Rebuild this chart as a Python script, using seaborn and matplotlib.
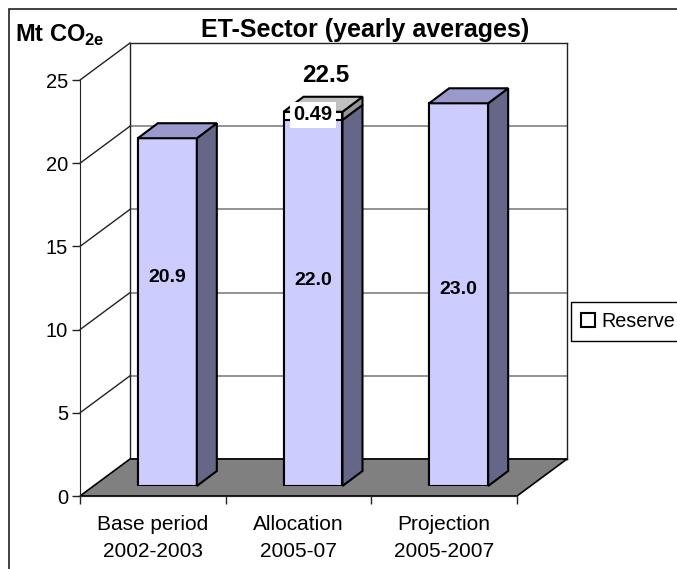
import matplotlib
matplotlib.use("Agg")
import matplotlib.pyplot as plt
import seaborn as sns
from matplotlib.patches import Patch, Polygon, Rectangle

categories = ["Base period\n2002-2003", "Allocation\n2005-07", "Projection\n2005-2007"]
base_values = [20.9, 22.0, 23.0]
reserve_values = [0, 0.49, 0]
base_labels = ["20.9", "22.0", "23.0"]
y_ticks = [0, 5, 10, 15, 20, 25]

W, H = 677, 569
sns.set_style("white")
plt.rcParams["font.family"] = ["Liberation Sans", "DejaVu Sans"]
plt.rcParams["mathtext.fontset"] = "custom"
plt.rcParams["mathtext.bf"] = "Liberation Sans:bold"
plt.rcParams["mathtext.rm"] = "Liberation Sans"
plt.rcParams["text.color"] = "black"
plt.rcParams["xtick.color"] = "black"
plt.rcParams["ytick.color"] = "black"

# front plane of the fake 3d box, in pixels
X0, X1, Y0, Y25 = 80, 517, 496, 80
PX_X = (X1 - X0) / 3
PX_Y = (Y0 - Y25) / 25


def place(dx, dy):
    return [(X0 + dx) / W, (H - Y0 + dy) / H, (X1 - X0) / W, (Y0 - Y25) / H]


def setup(a):
    a.set_xlim(-0.5, 2.5)
    a.set_ylim(0, 25)
    a.patch.set_alpha(0)


fig = plt.figure(figsize=(W / 100, H / 100), dpi=100)
fig.add_artist(Rectangle((9 / W, -0.1), 1.1, 1.1 + (H - 9) / H - 1, transform=fig.transFigure,
                         fill=False, edgecolor="#222222", lw=1.2))

# back wall
wall = fig.add_axes(place(50, 37), zorder=1)
setup(wall)
wall.set_xticks([])
wall.set_yticks(y_ticks)
wall.tick_params(left=False, labelleft=False)
wall.grid(axis="y", color="#808080", lw=1.2)
for s in wall.spines.values():
    s.set_color("#222222")
    s.set_linewidth(1)

# front axis + floor
ax = fig.add_axes(place(0, 0), zorder=2)
setup(ax)
wall_dx, wall_dy = 50 / PX_X, 37 / PX_Y
ax.add_patch(Polygon([(-0.5, 0), (2.5, 0), (2.5 + wall_dx, wall_dy), (-0.5 + wall_dx, wall_dy)],
                     facecolor="#808080", edgecolor="black", lw=1.2, clip_on=False))
for t in y_ticks[1:]:
    ax.plot([-0.5, -0.5 + wall_dx], [t, t + wall_dy], color="#222222", lw=1, clip_on=False)
ax.set_xticks([-0.5, 0.5, 1.5, 2.5])
ax.set_xticklabels([])
ax.set_xticks([0, 1, 2], labels=categories, minor=True)
ax.tick_params(axis="x", which="major", bottom=True, length=6, width=1, color="#222222")
ax.tick_params(axis="x", which="minor", bottom=False, pad=11.5, labelsize=15)
for lab in ax.get_xticklabels(minor=True):
    lab.set_linespacing(1.55)
ax.set_yticks(y_ticks)
ax.tick_params(axis="y", left=True, length=6, width=1, color="#222222", labelsize=14.5, pad=2.5)
ax.spines["top"].set_visible(False)
ax.spines["right"].set_visible(False)
ax.spines["left"].set_color("#222222")
ax.spines["bottom"].set_color("#222222")

# bars, stacked by drawing the total first
bars = fig.add_axes(place(14.5, 10), zorder=3)
totals = [b + r for b, r in zip(base_values, reserve_values)]
sns.barplot(x=categories, y=totals, color="white", saturation=1, width=0.405,
            edgecolor="black", linewidth=1.5, ax=bars)
sns.barplot(x=categories, y=base_values, color="#CCCCFF", saturation=1, width=0.405,
            edgecolor="black", linewidth=1.5, ax=bars)
setup(bars)
bars.axis("off")

bar_dx, bar_dy = 20 / PX_X, 15 / PX_Y
front_bars = bars.patches[3:]
for p, base, res in zip(front_bars, base_values, reserve_values):
    x2 = p.get_x() + p.get_width()
    x1 = p.get_x()
    top = base + res
    side = Polygon([(x2, 0), (x2 + bar_dx, bar_dy), (x2 + bar_dx, base + bar_dy), (x2, base)],
                   facecolor="#666688", edgecolor="black", lw=1.5, clip_on=False)
    bars.add_patch(side)
    if res > 0:
        bars.add_patch(Polygon([(x2, base), (x2 + bar_dx, base + bar_dy), (x2 + bar_dx, top + bar_dy), (x2, top)],
                               facecolor="#969696", edgecolor="black", lw=1.5, clip_on=False))
    bars.add_patch(Polygon([(x1, top), (x1 + bar_dx, top + bar_dy), (x2 + bar_dx, top + bar_dy), (x2, top)],
                           facecolor="#C0C0C0" if res > 0 else "#9999CC", edgecolor="black", lw=1.5, clip_on=False))

# value labels
label_y = [12.5, 12.35, 11.8]
for i, txt in enumerate(base_labels):
    bars.text(i, label_y[i], txt, ha="center", va="center", fontsize=14, fontweight="bold")
bars.text(1, 22.3, "0.49", ha="center", va="center", fontsize=14.5, fontweight="bold",
          bbox=dict(facecolor="white", edgecolor="none", pad=2.5), zorder=10)
bars.text(1.09, 24.65, "22.5", ha="center", va="center", fontsize=17.5, fontweight="bold",
          clip_on=False)

fig.text(365 / W, 1 - 30 / H, "ET-Sector (yearly averages)", ha="center", va="center",
         fontsize=18, fontweight="bold")
fig.text(15 / W, 1 - 35 / H, r"Mt CO$_{\mathbf{2e}}$", ha="left", va="center",
         fontsize=17, fontweight="bold")

leg = fig.legend(handles=[Patch(facecolor="white", edgecolor="black", lw=1.5, label="Reserve")],
                 loc="upper left", bbox_to_anchor=(571 / W, 1 - 302 / H), fontsize=14.2, fancybox=False,
                 edgecolor="black", framealpha=1, handlelength=0.72, handleheight=0.72, handletextpad=0.3,
                 borderpad=0.5, borderaxespad=0, labelspacing=0)
leg.get_frame().set_linewidth(1)

fig.savefig("out.png", dpi=100)
